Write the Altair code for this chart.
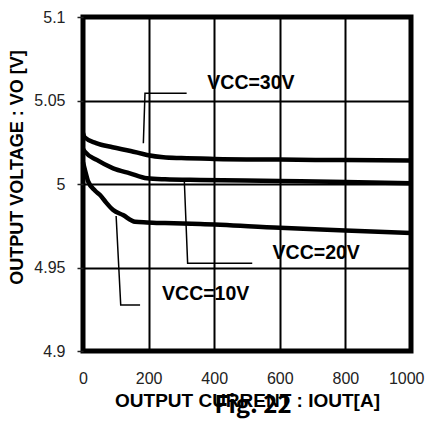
import altair as alt
import pandas as pd

# ---- data ----
current_30 = [0, 5, 40, 90, 145, 195, 245, 300, 400, 600, 800, 1000]
vout_30 = [5.0305, 5.028, 5.0245, 5.022, 5.0198, 5.0174, 5.016, 5.0155, 5.015, 5.0146, 5.0143, 5.014]

current_20 = [0, 6, 42, 92, 143, 195, 250, 358, 600, 800, 1000]
vout_20 = [5.021, 5.0193, 5.0144, 5.0094, 5.0064, 5.0034, 5.0028, 5.0024, 5.0018, 5.0012, 5.0004]

current_10 = [0, 6, 16, 37, 52, 70, 92, 122, 159, 195, 250, 358, 600, 800, 1000]
vout_10 = [5.013, 5.0084, 5.0014, 4.996, 4.9934, 4.989, 4.9844, 4.9814, 4.9774, 4.977, 4.9766, 4.976, 4.9738, 4.9722, 4.9706]

series_names = ["VCC=30V", "VCC=20V", "VCC=10V"]

leader_30_x = [184, 189, 316]
leader_30_y = [5.0244, 5.0543, 5.0543]
leader_20_x = [309, 319, 516]
leader_20_y = [5.0014, 4.9525, 4.9525]
leader_10_x = [101, 115, 174]
leader_10_y = [4.9808, 4.9275, 4.9275]

label_x = [379, 578, 241]
label_y = [5.0605, 4.9589, 4.934]

x_ticks = [0, 200, 400, 600, 800, 1000]
y_ticks = [4.9, 4.95, 5.0, 5.05, 5.1]

# ---- tables ----
rows = []
for name, xs, ys in zip(series_names, [current_30, current_20, current_10], [vout_30, vout_20, vout_10]):
    for i, (a, b) in enumerate(zip(xs, ys)):
        rows.append({"series": name, "i": i, "x": a, "y": b})
curves = pd.DataFrame(rows)

lrows = []
for name, xs, ys in zip(series_names, [leader_30_x, leader_20_x, leader_10_x], [leader_30_y, leader_20_y, leader_10_y]):
    for i, (a, b) in enumerate(zip(xs, ys)):
        lrows.append({"series": name, "i": i, "x": a, "y": b})
leaders = pd.DataFrame(lrows)

labels = pd.DataFrame({"text": series_names, "x": label_x, "y": label_y})

xscale = alt.Scale(domain=[0, 1000], nice=False, zero=False)
yscale = alt.Scale(domain=[4.9, 5.1], nice=False, zero=False)

last_x = "datum.value == 1000"
xaxis = alt.Axis(values=x_ticks, format="d", grid=True, ticks=False, domain=False,
                 labelFlush=False, labelOverlap=False,
                 labelAlign={"condition": {"test": last_x, "value": "right"}, "value": "center"},
                 labelOffset={"condition": {"test": last_x, "value": 13}, "value": 0},
                 labelFontSize=16, labelColor="#222", labelFont="Liberation Sans", labelPadding=19,
                 title="OUTPUT CURRENT : IOUT[A]", titleFontSize=19, titleFont="Liberation Sans",
                 titleFontWeight="bold", titleColor="black", titlePadding=5)
yaxis = alt.Axis(values=y_ticks, format="~g", grid=True, ticks=True, tickSize=6, tickWidth=1.5,
                 tickColor="#222", domain=False, labelFlush=False,
                 labelFontSize=16, labelColor="#222", labelFont="Liberation Sans", labelPadding=12,
                 title="OUTPUT VOLTAGE : VO [V]", titleFontSize=18, titleFont="Liberation Sans",
                 titleFontWeight="bold", titleColor="black", titlePadding=7, titleY=150)

base = alt.Chart(curves)

lines = base.mark_line(color="black", strokeWidth=4.5, interpolate="monotone").encode(
    x=alt.X("x:Q", scale=xscale, axis=xaxis),
    y=alt.Y("y:Q", scale=yscale, axis=yaxis),
    detail="series:N",
    order="i:Q",
)

lead = alt.Chart(leaders).mark_line(color="black", strokeWidth=1.5).encode(
    x=alt.X("x:Q", scale=xscale),
    y=alt.Y("y:Q", scale=yscale),
    detail="series:N",
    order="i:Q",
)

txt = alt.Chart(labels).mark_text(align="left", baseline="middle", fontSize=19.5,
                                  font="Liberation Sans", fontWeight="bold", color="black").encode(
    x=alt.X("x:Q", scale=xscale),
    y=alt.Y("y:Q", scale=yscale),
    text="text:N",
)

chart = (lines + lead + txt).properties(
    width=328, height=334,
    autosize=alt.AutoSizeParams(type="none"),
    padding={"left": 75, "top": 9, "right": 14, "bottom": 71},
    title=alt.TitleParams("Fig. 22", orient="bottom", anchor="middle",
                          font="Noto Sans CJK JP",
                          fontSize=24, fontWeight="bold", color="black", offset=-16.5, dx=6),
).configure_view(
    stroke="black", strokeWidth=5
).configure_axis(
    gridColor="black", gridWidth=2, gridOpacity=1
)

chart.save("out.html", embed_options={"renderer": "svg", "actions": False})
